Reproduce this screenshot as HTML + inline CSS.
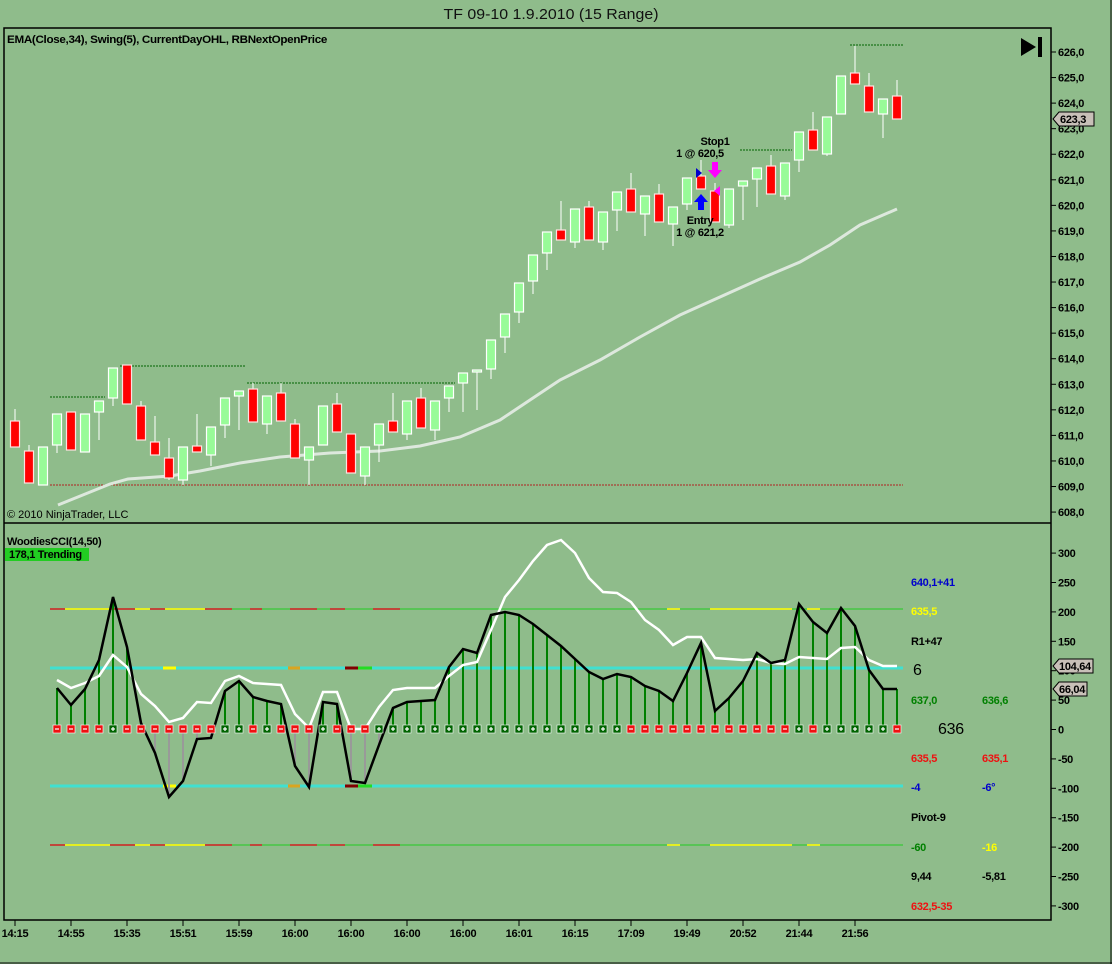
<!DOCTYPE html>
<html><head><meta charset="utf-8"><style>
html,body{margin:0;padding:0;background:#8fbc8b;}
svg{display:block;font-family:"Liberation Sans",sans-serif;}
.b{font-weight:bold;font-size:11px;letter-spacing:-0.3px;}
</style></head><body>
<svg id="s" width="1112" height="964" viewBox="0 0 1112 964" xmlns="http://www.w3.org/2000/svg">
<rect x="0" y="0" width="1112" height="964" fill="#8fbc8b"/>
<text x="551" y="19" font-size="15" text-anchor="middle" fill="#111" textLength="215" lengthAdjust="spacingAndGlyphs">TF 09-10  1.9.2010 (15 Range)</text>
<rect x="4" y="28" width="1047" height="892" fill="none" stroke="#000" stroke-width="1.5"/>
<line x1="4" y1="523" x2="1051" y2="523" stroke="#000" stroke-width="1.5"/>
<line x1="1111" y1="0" x2="1111" y2="964" stroke="#000"/>
<line x1="0" y1="963" x2="1112" y2="963" stroke="#000"/>
<text x="7" y="43" class="b" fill="#000" textLength="320" lengthAdjust="spacingAndGlyphs">EMA(Close,34), Swing(5), CurrentDayOHL, RBNextOpenPrice</text>
<text x="7" y="518" font-size="11" fill="#000">© 2010 NinjaTrader, LLC</text>
<polygon points="1021,38 1021,56 1036,47" fill="#000"/><rect x="1038" y="37" width="4" height="20" fill="#000"/>
<!-- swing / OHL lines -->
<g stroke="#006400" stroke-width="1" stroke-dasharray="2,1">
<line x1="50" y1="397" x2="105" y2="397"/><line x1="120" y1="366" x2="245" y2="366"/>
<line x1="247" y1="383" x2="455" y2="383"/><line x1="740" y1="150" x2="792" y2="150"/>
<line x1="850" y1="45" x2="903" y2="45"/></g>
<line x1="50" y1="485" x2="903" y2="485" stroke="#b22222" stroke-dasharray="2,1"/>
<polyline fill="none" stroke="#dde8dd" stroke-width="3" points="58,505 110,484 128,479 170,476 200,471 240,463 280,457 330,453 380,451 420,446 460,437 500,420 530,400 560,380 600,360 640,337 680,315 720,297 760,279 800,262 830,245 860,225 897,209"/>
<g id="candles"></g>
<!-- trade markers -->
<polygon points="696,168 696,178 702,173" fill="#0000cc"/>
<polygon points="712,162 718,162 718,170 722,170 715,178 708,170 712,170" fill="#ff00ff"/>
<polygon points="701,194 708,202 704,202 704,210 698,210 698,202 694,202" fill="#0000ff"/>
<polygon points="720,186 720,196 714,191" fill="#ff00ff"/>
<text x="715" y="145" class="b" text-anchor="middle">Stop1</text>
<text x="700" y="157" class="b" text-anchor="middle">1 @ 620,5</text>
<text x="700" y="224" class="b" text-anchor="middle">Entry</text>
<text x="700" y="236" class="b" text-anchor="middle">1 @ 621,2</text>
<!-- price axis -->
<g id="pax" class="b" fill="#000"></g>
<polygon points="1053,119 1059,112 1094,112 1094,126 1059,126" fill="#c8c0b8" stroke="#000"/>
<text x="1060" y="123" class="b">623,3</text>
<!-- CCI panel -->
<text x="7" y="545" class="b">WoodiesCCI(14,50)</text>
<rect x="5" y="548" width="84" height="13" fill="#22cc22"/>
<text x="9" y="558" class="b">178,1 Trending</text>
<g id="lvl"></g>
<g id="cci"></g>
<g class="b">
<text x="911" y="586" fill="#0000cc">640,1+41</text>
<text x="911" y="615" fill="#ffff00">635,5</text>
<text x="911" y="645" fill="#000">R1+47</text>
<text x="913" y="675" fill="#000" font-size="16" font-weight="normal">6</text>
<text x="911" y="704" fill="#008000">637,0</text><text x="982" y="704" fill="#008000">636,6</text>
<text x="938" y="734" fill="#000" font-size="16" font-weight="normal">636</text>
<text x="911" y="762" fill="#ee1111">635,5</text><text x="982" y="762" fill="#ee1111">635,1</text>
<text x="911" y="791" fill="#0000cc">-4</text><text x="982" y="791" fill="#0000cc">-6°</text>
<text x="911" y="821" fill="#000">Pivot-9</text>
<text x="911" y="851" fill="#008000">-60</text><text x="982" y="851" fill="#ffff00">-16</text>
<text x="911" y="880" fill="#000">9,44</text><text x="982" y="880" fill="#000">-5,81</text>
<text x="911" y="910" fill="#ee1111">632,5-35</text>
</g>
<g id="cax" class="b"></g>
<polygon points="1053,666 1059,659 1093,659 1093,673 1059,673" fill="#c8c0b8" stroke="#000"/>
<text x="1059" y="670" class="b">104,64</text>
<polygon points="1053,689 1059,682 1087,682 1087,696 1059,696" fill="#c8c0b8" stroke="#000"/>
<text x="1059" y="693" class="b">66,04</text>
<g id="tax" class="b"></g>
</svg>
<script>
var NS="http://www.w3.org/2000/svg";
function el(p,t,a,txt){var e=document.createElementNS(NS,t);for(var k in a)e.setAttribute(k,a[k]);if(txt!=null)e.textContent=txt;document.getElementById(p).appendChild(e);return e;}
var C=[["r",421,447,409,447],["r",451,483,445,483],["g",447,485],["g",414,445,414,453],["r",412,450],["g",414,452],["g",401,412,401,440],["g",368,398,368,406],["r",365,404],["r",406,440,401,440],["r",442,455,416,455],["r",458,478,438,480],["g",447,480,447,485],["r",446,452,414,452],["g",427,455,427,466],["g",398,425,398,438],["g",391,396,391,430],["r",389,422,383,422],["g",396,424,396,434],["r",393,421,383,421],["r",424,458,419,458],["g",447,460,447,485],["g",406,445],["r",404,432,393,432],["r",434,473],["g",447,476,447,485],["g",424,445,424,462],["r",421,432,393,432],["g",401,434,401,440],["r",398,428,388,428],["g",401,430,401,440],["g",386,398,386,412],["g",373,383,373,412],["g",370,372,370,410],["g",340,369,340,379],["g",314,337,314,353],["g",283,312,283,323],["g",255,281,255,294],["g",232,253,232,270],["r",230,240,201,240],["g",209,242,209,248],["r",207,240,201,240],["g",212,242,212,250],["g",192,210,192,231],["r",189,212,173,212],["g",196,214,196,236],["r",194,222,184,222],["g",207,224,207,246],["g",178,204,178,210],["r",176,189,160,189],["r",191,222,183,222],["g",189,225,189,228],["g",181,186,181,220],["g",168,179,168,207],["r",166,194,155,194],["g",163,196,163,200],["g",132,160,132,172],["r",130,150,112,150],["g",117,154,117,156],["g",76,114,76,114],["r",73,84,46,84],["r",86,112,73,112],["g",99,114,99,138],["r",96,119,80,119]];
C.forEach(function(c,i){var x=15+14*i,wt=c[3]||c[1],wb=c[4]||c[2];
el("candles","line",{x1:x,y1:wt,x2:x,y2:wb,stroke:"#fff","stroke-width":1});
el("candles","rect",{x:x-4.5,y:c[1],width:9,height:Math.max(2,c[2]-c[1]),fill:c[0]=="g"?"#98fb98":"#ff0000",stroke:c[0]=="g"?"#fff":"#ffe0e0","stroke-width":1.2});});
for(var p=608;p<=626;p++){var y=52+(626-p)*25.56;el("pax","line",{x1:1051,y1:y,x2:1056,y2:y,stroke:"#000"});el("pax","text",{x:1058,y:y+4},p+",0");}
for(var v=-300;v<=300;v+=50){var y=729.5-v*0.588;el("cax","line",{x1:1051,y1:y,x2:1056,y2:y,stroke:"#000"});el("cax","text",{x:1058,y:y+4},String(v));}
var T=["14:15","14:55","15:35","15:51","15:59","16:00","16:00","16:00","16:00","16:01","16:15","17:09","19:49","20:52","21:44","21:56"];
T.forEach(function(t,i){var x=15+56*i;el("tax","line",{x1:x,y1:920,x2:x,y2:926,stroke:"#000"});el("tax","text",{x:x,y:937,"text-anchor":"middle"},t);});
// levels
[609,845].forEach(function(y){el("lvl","line",{x1:50,y1:y,x2:903,y2:y,stroke:"#22cc22","stroke-width":1});
[[50,65,"#d02020"],[65,110,"#ffff00"],[110,135,"#d02020"],[135,150,"#ffff00"],[150,165,"#d02020"],[165,205,"#ffff00"],[205,232,"#d02020"],[250,262,"#d02020"],[290,317,"#d02020"],[330,345,"#d02020"],[373,400,"#d02020"],[667,680,"#ffff00"],[710,792,"#ffff00"],[807,820,"#ffff00"]].forEach(function(s){el("lvl","line",{x1:s[0],y1:y,x2:s[1],y2:y,stroke:s[2],"stroke-width":1.5});});});
[668,786].forEach(function(y){el("lvl","line",{x1:50,y1:y,x2:903,y2:y,stroke:"#40e0d0","stroke-width":3});
[[163,176,"#ffff00"],[288,300,"#daa520"],[345,358,"#800000"],[358,372,"#22dd22"]].forEach(function(s){el("lvl","line",{x1:s[0],y1:y,x2:s[1],y2:y,stroke:s[2],"stroke-width":3});});});
var B=[688,705,689,660,597,647,723,753,797,781,739,738,691,681,697,701,704,766,787,702,704,781,783,745,708,702,701,700,667,649,653,615,612,615,624,635,646,659,672,679,674,677,686,691,701,673,643,711,698,681,653,663,660,604,622,633,608,626,670,689,689];
var W=[680,688,683,676,655,667,694,706,722,718,702,703,681,676,683,684,685,714,728,692,692,729,729,707,690,688,688,688,676,665,662,630,597,580,561,545,540,553,578,592,593,602,620,630,645,637,637,658,659,660,659,663,664,657,658,659,648,647,660,666,666];
var M="----+-------++-+---+---++"+"++++++++++++++++"+"------------"+"+-+++++-";
B.forEach(function(b,i){var x=57+14*i;el("cci","line",{x1:x,y1:729,x2:x,y2:b,stroke:b<729?"#008000":"#999999","stroke-width":2});});
el("cci","polyline",{points:W.map(function(y,i){return (57+14*i)+","+y}).join(" "),fill:"none",stroke:"#ffffff","stroke-width":2.5});
el("cci","polyline",{points:B.map(function(y,i){return (57+14*i)+","+y}).join(" "),fill:"none",stroke:"#000","stroke-width":2.5});
for(var i=0;i<61;i++){var x=57+14*i,pl=M[i]=="+";
el("cci","rect",{x:x-4,y:725,width:8,height:8,fill:pl?"#006400":"#ee1111",stroke:"#fff","stroke-width":0.6});
el("cci","line",{x1:x-2,y1:729,x2:x+2,y2:729,stroke:"#fff","stroke-width":1.2});
if(pl)el("cci","line",{x1:x,y1:727,x2:x,y2:731,stroke:"#fff","stroke-width":1.2});}
</script>
</body></html>
